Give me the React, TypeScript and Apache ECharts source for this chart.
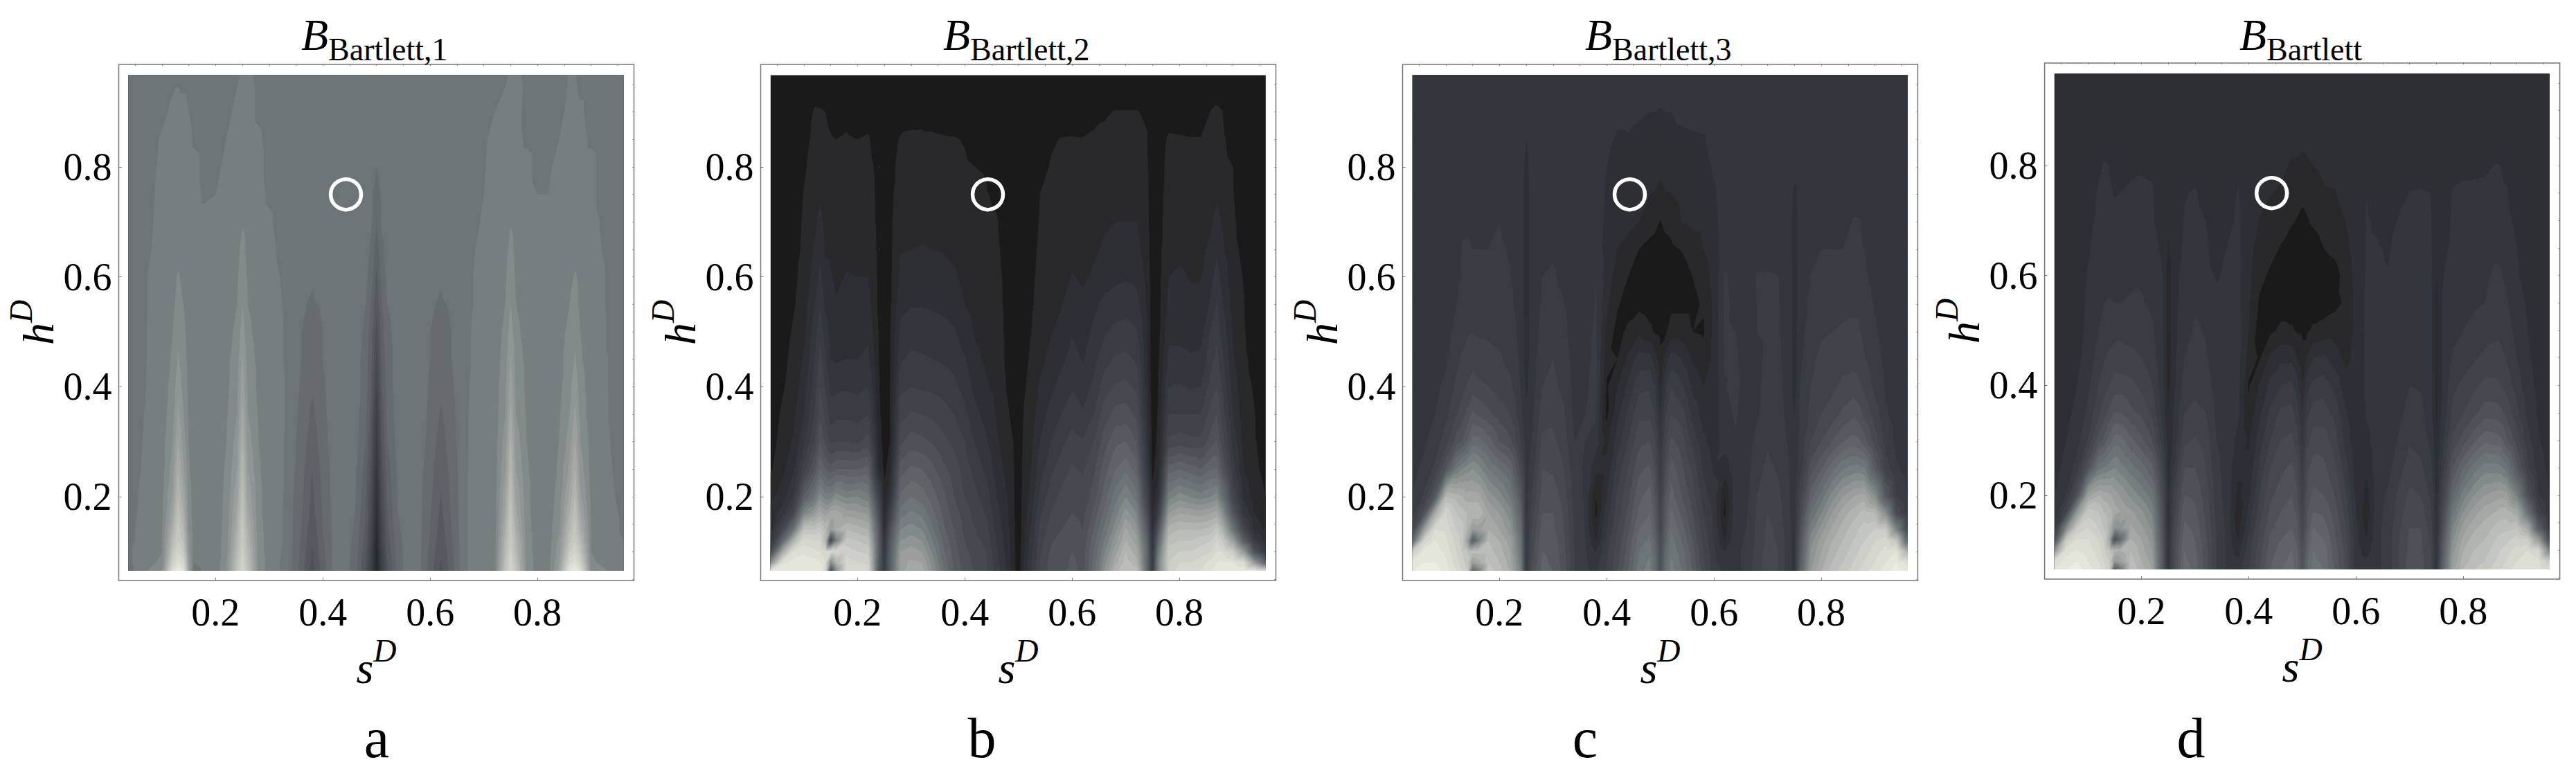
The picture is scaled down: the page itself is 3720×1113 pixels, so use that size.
import React, { useEffect, useRef } from "react";
import * as echarts from "echarts";

// grid positions of the sampled surface (shared by all four panels)
const S = [0.038,0.06,0.08,0.10,0.12,0.13,0.14,0.15,0.16,0.18,
  0.20,0.22,0.24,0.25,0.26,0.28,0.30,0.32,0.34,0.36,
  0.38,0.40,0.42,0.44,0.46,0.48,0.49,0.50,0.51,0.52,
  0.54,0.56,0.58,0.60,0.62,0.64,0.66,0.68,0.70,0.72,
  0.74,0.75,0.76,0.78,0.80,0.82,0.84,0.86,0.87,0.88,
  0.90,0.92,0.94,0.961];
const H = [0.065,0.08,0.10,0.12,0.14,0.17,0.20,0.25,0.30,0.35,
  0.40,0.45,0.50,0.55,0.60,0.65,0.70,0.75,0.80,0.85,
  0.90,0.967];

const TICKS = [0.2, 0.4, 0.6, 0.8];
const MINOR_TICKS = [0.05,0.1,0.15,0.2,0.25,0.3,0.35,0.4,0.45,0.5,0.55,0.6,0.65,0.7,0.75,0.8,0.85,0.9,0.95];
const MARKER = [[0.443, 0.75]];

// panel a, rows from the top of the plot down
const ROWS_A = [
[46,46,46,46,46,47,46,46,46,46, 46,46,47,49,49,47,46,46,46,46, 46,46,46,46,46,46,46,46,46,46, 46,46,46,46,46,46,46,46,46,46, 47,49,49,47,46,46,46,48.5,48.5,46, 46,46,46,46],
[46,46,46,46,50,50,50,48,46,46, 46,46,50,50,50,47,46,46,46,46, 46,46,46,46,46,46,46,46,46,46, 46,46,46,46,46,46,46,46,46,48, 50,50,50,46,46,46,46,50,50,49, 46,46,46,46],
[46,46,46,49,50,50,50,50,47,46, 46,48,50,50,50,49,46,46,46,46, 46,46,46,46,46,46,46,46,46,46, 46,46,46,46,46,46,46,46,47,50, 50,50,50,47,46,46,48,50,50,50, 47,46,46,46],
[46,46,46,50,50,50,50,50,50,46, 46,50,50,50,50,50,46,46,46,46, 46,46,46,46,46,46,46,44,46,46, 46,46,46,46,46,46,46,46,47.5,50, 50,50,50,50,46,47,50,50,50,50, 50,46,46,46],
[46,46,47,50,50,50,50,50,50,47, 48,50,50,50,50,50,47,46,46,46, 46,46,46,46,46,46,45,42,45,46, 46,46,46,46,46,46,46,46,48,50, 50,50,50,50,48,48,50,50,50,50, 50,46,46,46],
[46,46,47.5,50,50,50,50,50,50,50, 48.5,50,51,51.8,51,50,49,46,46,46, 46,46,46,46,46,46,45,40,45,46, 46,46,46,46,46,46,46,46,49,50, 51,51.8,51,50,49,49,50,50,50,50, 50,47.5,46,46],
[46,46,48,50,50,50,50,50,50,50, 50,50,51,53,51,50,50,47,46,46, 46,46,46,46,46,46,43,38,43,46, 46,46,46,46,46,46,46,47.5,50,50, 51,53,51,50,50,50,50,50,50,50, 50,48,46,46],
[46,46,49,50,51,52.5,51,50,50,50, 50,50,51.5,54,51.5,50,50,48,45.5,46, 44.5,46,46,46,46,45,42,35,42,45, 46,46,46,46,44.5,46,45.5,48,50,50, 51.5,54,51.5,50,50,50,50,51,52.5,51, 50,49,46,46],
[46,46,49,50,51,53.5,52,50,50,50, 50,50,52,56,52,50,50,48.5,46,44.5, 43.5,44.5,46,46,46,44,40,33,40,44, 46,46,46,44.5,43.5,44.5,46,48,50,50, 52,56,52,50,50,50,50,52,53.5,51, 50,49,46,46],
[46,46,49.5,50,52,55,53,50.5,50,50, 50,50.5,53,58,53,50.5,50,49,46,44, 42.5,44,46,46,46,43,38,30,38,43, 46,46,46,44,42.7,44,46,48.5,50,50, 53,58,53,50.5,50,50,50.5,53,55,52, 50,49.5,46,46],
[46,46,49.5,50,52.5,56.5,53.5,51,50,50, 50,51,54,60.5,54,51,50,49,46,44, 41.5,44,46,46,46,42,37,27,37,42, 46,46,46,44,42,44,46,48.5,50,50, 54,60.5,54,51,50,50,51,53.5,56.5,52.5, 50,49.5,47,46],
[46,46.5,49.5,50,53.5,58.5,54.5,51,50,50, 50,51,55,62.5,55,51,50,49.5,46,43.5, 40.5,43.5,46,46,46,42,36,24,36,42, 46,46,46,43.5,41,43.5,46,49,50,50, 55,62.5,55,51,50,50,51,54.5,58.5,53.5, 50,49.5,47,46],
[46,47,50,50,54.5,61,56,51.5,50,50, 50,51.5,56,65.5,56,51.5,50,49.5,46,43, 39,43,46,46,46,41,34,21,34,41, 46,46,46,43,39.5,43,46,49.5,50,50, 56,65.5,56,51.5,50,50,51.5,56,61,54.5, 50,50,47,46],
[46,47.5,50,50.5,56,64.5,58,52,50,50, 50,52,58,68.5,58,52,50,49.5,45.5,42.5, 37.5,42.5,46,46,45.5,40,32,18,32,40, 45.5,46,46,42.5,38,42.5,46,49.5,50,50, 58,68.5,58,52,50,50,52,58,64.5,56, 50.5,50,47.5,46],
[46,48,50,50.5,58,68,61,52.5,50,50, 50,52.5,60,72,60,52.5,50,49.5,45.5,41.5, 36,41.5,45.5,46,45,38,30,15,30,38, 45,46,45.5,41.5,37,41.5,46,50,50,50, 60,72,60,52.5,50,50,52.5,61,68,58, 50.5,50,48,46],
[46,48.5,50,51,61,72,65,53.5,50,50, 50,53,63,75,63,53,50,49.5,45,41, 35,41,45.5,46,44.5,37,28,12,28,37, 44.5,46,45,41,35.8,41,46,50,50,50, 63,75,63,53,50,50,53.5,65,72,61, 51,50,48.5,46.5],
[46,49,50,51,64,75,68,54,50,50, 50,53,65,77,65,53,50,49,45,40.5, 34.5,40.5,45,46,44,36,27,10,27,36, 44,46,45,40.5,35,40.5,46,50,50,50, 65,77,65,53,50,50,54,68,75,64, 51,50,49,47],
[46,49.5,50,51.5,68,78,72,55,50.5,50, 50,53.5,68,78.5,68,53.5,50,49,45,40, 33,40,45,46,43.5,35,25,8,25,35, 43.5,46,45,40,34,40,46,50,50,50, 68,78.5,68,53.5,50,50.5,55,72,78,68, 51.5,50,49.5,47],
[46,50,50,52,72,80,75,57,50,50, 50,54,70,80,70,54,50,49,45,39.5, 32.5,39.5,45,46,43,34,24,7,24,34, 43,46,45,39.5,33.5,39.5,46,50,50,50, 70,80,70,54,50,50,57,75,80,72, 52,50,50,48],
[47,50,50,52,76,84,79,58,50,50, 50,54,72,81.5,72,54,50,48.5,45,39, 31.5,39,45,46,42.5,33,22,6,22,33, 42.5,46,45,39,32.5,39,46,50,50,50, 72,81.5,72,54,50,50,58,79,84,76, 52,50,50,49],
[47,50,51,53,82,90,86,60,48,50, 50,55,74,83,74,55,50,48,45,38.5, 31,38.5,45,46,42,32,21,5,21,32, 42,46,45,38.5,31.8,38.5,46,50,50,50, 74,83,74,55,50,50,60,86,90,82, 53,51,50,49],
[46.5,50,53,56,88,98,92,62,46,49, 50,55,76,85,76,55,50,48,45,38, 30,38,45,46,42,31,20,4,20,31, 42,46,45,38,31,38,46,50,50,50, 76,85,76,55,50,50,62,92,98,88, 56,53,50,48],
];

// panels b, c, d: one list per s column, from the bottom of the plot up
const COLS_B = [
[92,55,25,14,11,9,7,3.5,2.5,2, 1.5,1,1,1,0,0,0,0,0,0, 0,0],
[96,90,65,40,25,14,10,7,5.5,4.7, 3.5,3,2,1,1,0,0,0,0,0, 0,0],
[96,94,88,68,45,25,16,11,8.5,7, 6,5,4.5,3.5,3,2,1.5,1,0,0, 0,0],
[96,95,91,86,76,52,36,22,15,12, 10,8.5,7,6,5.5,5,4.7,4.2,3.5,2.5, 1,0],
[96,94,89,84,76,60,46,32,24,20, 18,16,14,12,10,8.5,7.3,6,5.5,5.2, 4.6,0],
[96,92,88,84,78,66,54,40,32,27, 24,21.5,19,16,13,11,9,7.5,6.5,6, 4.5,0],
[85,88,85,72,72,62,50,36,27,23, 20,17,14,11,9,7.5,7,6,5.5,5, 4,0],
[30,55,85,25,60,66,50,34,23,18, 15,12,10.5,9,8.3,7.5,6.5,5.5,5,4.3, 3,0],
[55,70,85,50,68,66,54,36,24,19, 15,11.5,9.5,8.2,7.5,6.8,6,5.5,4.8,4, 2.5,0],
[88,86,82,78,72,62,51,36,24,19, 15.5,12,10,9,8.2,7,6.2,5.7,5,4.4, 3,0],
[88,84,80,76,70,61,52,36,23,18.5, 15,12,11,9.5,8,7,6,5.5,5,4, 2,0],
[86,83,79,74,68,59,49,37,26,20, 16,13,11,9.5,8,7,6,5.5,5,4.4, 2.5,0],
[32,34,36,36,34,28,22,8,6,5, 4.5,4,3.5,3,3,3,3,3,3,2, 1,0],
[18,18,16,13,10.5,8,5.5,3,2,1.5, 1,1,1,1,1,1,1,1,1,0, 0,0],
[35,35,34,32,28,20,12,6,4,3.5, 3.5,3.5,3.5,3,3,3,3,3,3,2.5, 1,0],
[62,62,60,56,52,46,41,34,27,22.5, 19,15.5,13,11,9,7.8,7,6,5,4.4, 2,0],
[68,65,62,58,54,49,44,37,30,24.5, 20,17,14,11.7,10,8,7,6,5,4.5, 3,0],
[66,64,60,56,52,47,42,36,29,24, 19.5,16.5,14,11.8,10,8.2,7,6,5.3,4.6, 3,0],
[56,54,51,48,45,41,38,33,27.5,23, 19,16,13.8,11.5,9.5,8,7,6,5.2,4.6, 2.5,0],
[44,43,41,39,37,35,33,29,25,21.5, 18.5,15.5,13.5,11,9,7.8,6.8,5.8,5,4.4, 2,0],
[36,35,34,33,32,30,28,26,23,20, 17,14.5,12.5,10,8.5,7.3,6.3,5.5,4.8,4.3, 1.5,0],
[30,30,29,28,27,26,24,22,20,17, 14.5,12.4,9.8,8,7,6.3,5.6,5,4.5,3.8, 1,0],
[28,27,26,25,24,22.5,21,18.5,15.5,13, 10.5,8.8,7.6,6.7,6,5.5,5,4.6,4,2.5, 0.5,0],
[25,24.5,24,23,21.5,19.5,18,15,12.5,10.5, 8.5,7.4,6.6,6,5.5,5,4.6,4.2,3.8,1.5, 0,0],
[18,17.5,16.5,15.5,14.5,13.2,12,10,8.6,7.5, 6.8,6.1,5.6,5.1,4.9,4.6,4.2,3.5,2,0, 0,0],
[11,10.5,10,9.5,9,8.5,7.8,6.5,5.5,4.5, 3.5,3,3,3,3,2.5,2,1,0,0, 0,0],
[6,6,6,5.8,5.5,5.2,5,4.6,4.1,3, 2,2,1,1,1,1,0,0,0,0, 0,0],
[1.5,1.5,1.5,1,1,1,1,1,1,0, 0,0,0,0,0,0,0,0,0,0, 0,0],
[8,8,7.5,7,7,6.5,6,5.5,5,4.3, 3.5,2.5,2,1,1,0,0,0,0,0, 0,0],
[14,14,13,12,11,9.5,8,7,6,5.3, 4.8,4.2,3.5,3,2.5,2,1,0,0,0, 0,0],
[24,24,23,22,21,19,17,14,12,10, 8.5,7,6,5.5,5.2,4.8,4.4,4,2.5,1, 0,0],
[30,29.5,28.5,27.5,26,24,22,19,16,13.5, 11,9,7.7,6.8,6,5.5,5,4.7,4.3,3.5, 0.5,0],
[30,30,30,29,28,26.5,25,22,19,16, 13.5,11,9.2,7.8,6.8,6.1,5.6,5.2,4.8,4.2, 1.5,0],
[34,33,32,31,30,28,27,24.5,21.5,18.5, 15.7,13.5,11.7,9.4,8.2,7,6,5.5,5,4.3, 2,0],
[30,30,30,29,28,27,25,23.5,20.5,16.5, 14,11.7,10,8.7,7.5,6.6,5.8,5.2,4.8,4.2, 1.5,0],
[42,41,40,38,36,33,30,27,24,20, 17,14.5,12.8,11,8.6,7.3,6.5,5.6,5,4.8, 2.5,0],
[56,54,51,48,45,41,38,34,30,26, 22,18.5,15.5,13,10.5,8.6,7.4,6.4,5.6,5, 3.5,0],
[70,66,62,58,54,50,46,40,35,29.5, 24.5,20.5,17,14,11,9.2,8,6.8,5.8,5, 4.2,0],
[76,74,72,68,65,58,52,43,36,30, 25,21,17.5,14.5,11.5,9.5,8,6.8,5.8,5, 4.2,0],
[74,70,66,62,58,52,46,38,32,27, 23,19.5,16.5,13.5,11,9.2,8,6.8,5.8,5, 4.2,0],
[40,40,40,38,34,28,22,16,13,11, 9.5,8.5,8,7.5,6.8,6,5.5,5,4.6,4.2, 3.5,0],
[18,18,16,14,11,8,5.5,3,2,1.5, 1,1,1,1,1,1,1,1,1,0, 0,0],
[50,50,45,38,30,18,11,6,5,4.3, 3.8,3,2.5,2.5,2.5,2.5,2.5,2.5,2.5,2, 1,0],
[80,80,78,74,70,60,50,38,25,20, 16,13,11,9,8,7,6,5.5,5,4.6, 2,0],
[86,84,80,76,72,64,54,40,26,20, 16.5,13,11,9.5,8.5,7.3,6.5,5.7,5,4.4, 2,0],
[86,84,80,76,72,63,52,38,25,20, 15.7,12.5,10.5,8.7,7.8,7,6.2,5.7,5,4.2, 2,0],
[88,86,82,78,72,62,50,36,25,20, 16,13,10.5,8.8,7.8,7,6.4,5.8,5,4.2, 2,0],
[92,90,84,80,74,64,52,40,30,26, 22,19,17,13,11,9,7.7,6.5,5.8,5.2, 4.3,1],
[94,92,88,84,78,66,54,40,32,28, 24,21.5,19,16.5,13.5,11.5,9,7.7,6.5,5.7, 4.8,1],
[96,93,88,80,70,56,44,32,26,22, 19.5,17,14.5,12.5,10.5,8.8,7.7,6.6,5.6,5, 4.2,0],
[96,92,80,62,46,32,24,18,14.5,12, 10,8.5,7.5,6.4,5.8,5.2,4.8,4.3,4,2, 0,0],
[96,88,60,36,24,15,11,8,6.5,5.5, 5,4.7,4.4,4.2,3.8,3,2,1,0,0, 0,0],
[94,60,30,18,11,8,6,4.8,4.3,4.1, 3.7,3,2,1,1,0,0,0,0,0, 0,0],
[86,38,16,10,7,5,4,3,2.5,2, 1.5,1,1,0,0,0,0,0,0,0, 0,0],
];

const COLS_C = [
[96,94,80,40,24,18,16.5,15,14,14, 14,14,14,14,14,14,14,14,14,14, 14,14],
[98,96,94,84,62,30,21,17,15.5,14.5, 14,14,14,14,14,14,14,14,14,14, 14,14],
[98,96,94,92,88,66,34,21,18,16, 15,14.5,14,14,14,14,14,14,14,14, 14,14],
[94,93,91,89,87,84,72,32,22,19, 17,15.5,15,14.5,14,14,14,14,14,14, 14,14],
[88,86,84,82,80,76,70,48,30,24, 21,19,17,16,15,14.5,14.5,14,14,14, 14,14],
[84,82,80,78,78,74,68,52,32,26, 22.5,20.5,18.5,17,16.3,16.2,15.7,14.5,14,14, 14,14],
[80,78,76,64,70,72,66,54,36,29, 24.5,22,19.5,17.5,16.5,16.3,15.6,14.5,14,14, 14,14],
[40,62,74,36,60,72,66,56,42,33, 26,22.5,20,17.5,16.5,16,15.5,14,14,14, 14,14],
[50,66,74,48,62,72,66,54,42,31.5, 25,21.5,19.5,17.5,16.5,16,15.5,14,14,14, 14,14],
[78,76,74,72,68,64,58,48,38,29, 24,21,19.5,18,16.5,16,15.7,14.2,14,14, 14,14],
[74,72,70,68,64,60,54,44,32,26, 22,20.5,19,18.5,17,16.5,16,14.2,14,14, 14,14],
[68,66,64,62,58,54,48,40,29,24, 21,19,18,17,16.2,15.7,14.8,14,14,14, 14,14],
[50,48,46,44,42,38,34,26,20,17, 16,15,14.5,14,14,14,14,14,14,14, 14,14],
[16,16,16,16,16,15,15,15,14,13, 11,10,10,10,10,10,10,10,10.5,12, 14,14],
[28,27,26,25,24,22,20,17.5,16,15, 14,14,14,14,14,14,14,14,14,14, 14,14],
[38,37,36,35,34,32,30,28,25,22, 20,18.5,17.5,16.5,16,14.5,14,14,14,14, 14,14],
[36,35,35,34,33,32,30,27.5,25,23, 21,20,18.5,17.5,16.5,15.5,14,14,14,14, 14,14],
[30,30,29.5,29,28.5,27.5,26.5,24,22,20.5, 19,18,17,16.2,15,14.5,14,14,14,14, 14,14],
[20,20,20,19.5,19.5,19,18,17,16,15, 14.5,14.5,14,14,14,14,14,14,14,14, 14,14],
[17,17,17,16.5,16,15.5,15.5,15.5,16,16, 15.5,15,14.5,14,14,14,14,14,14,14, 14,14],
[15,14,12,8,6,3,4,9,14,16.5, 17,17,16.7,16.4,16,14,14,14,14,14, 14,14],
[20,20,19,18,16,14,12,9,7,3, 3.5,5,7,9,10,10.5,11,11.5,12,13.5, 14,14],
[28,27,26,25,24,22,21,18,14,11, 8,4,2.5,4.5,6,8,9.5,10,10.5,11, 14,14],
[36,35,34,33,31,29,27,24,20,17, 13,9,5,2,4,6.5,9,9.7,10.5,11.5, 13.5,14],
[46,45,44,42,40,37,35,31,27,23, 19,14,7,3,2.5,4,8,9,10,11, 12.5,14],
[50,49,47,45,43,40,38,33,28,23, 19.5,14,5,2,2,3,5.5,8,9,10.5, 12,14],
[42,42,40,38,36,34,32,28,24,20, 16,10,3.5,2,2,2.5,5,7.8,9.5,10.8, 12,14],
[30,30,28,27,25,23,21,18,15,12, 8,5,3,2,1.5,2,3.8,7.2,8.8,10.5, 11.8,13.5],
[42,42,40,38,36,34,32,28,24,20, 16,10,3.5,2,2,2.5,5,7.8,9.5,10.8, 12,14],
[50,49,47,46,44,41,38,34,29,24, 20,14,6,3,2,3.2,5.5,8,9.5,10.8, 12,14],
[44,43,42,40,38,35,32,29,26,22, 17,12,6,3,2,4.2,8,9,10,11, 13,14],
[36,35,34,32,30,28,26,23,19,15, 11,7.5,4,3,4,6,9,9.5,10.3,11.2, 13.5,14],
[26,25,24,23,22,20,18,15.5,13,10, 8,5.5,3.5,4.5,5.5,8,9,9.7,10.5,11.5, 14,14],
[18,17,17,16,16,15,14,11.5,10,9.2, 9,9,9,9,9.5,10.5,11,11.5,12.5,14, 14,14],
[15,14,12,8,6,3,4,10,13.5,15, 15.8,16.3,16.7,17,16.5,14,14,14,14,14, 14,14],
[15,15,15,15,15,15,15,15,15.5,16.5, 17,16.5,16,15,14.5,14,14,14,14,14, 14,14],
[17,17,17,16.5,16,15.5,15,14.5,14.5,14.5, 14.5,14.5,14.5,14,14,14,14,14,14,14, 14,14],
[22,22,21.5,21,21,20.5,20,18.5,17,15.5, 15.5,15.5,16,16,16.3,14.5,14,14,14,14, 14,14],
[26,26,26,25,25,24,23,21,19.5,18, 17,16.5,16.3,16.5,16.4,14.5,14,14,14,14, 14,14],
[24,24,24,23.5,23,22,21,19.5,18,17, 16.5,16.4,16.3,16.2,16.1,14,14,14,14,14, 14,14],
[17,17,17,17,17,16.5,16.3,16,15.5,15, 15,15,14.8,14.8,14.5,14,14,14,14,14, 14,14],
[15,15,15,15,15,14.5,14.5,14,13,12, 10,10,10,10,10,10,10,11,14,14, 14,14],
[36,34,32,30,28,25,22,18,17,16.5, 16,15,14.5,14,14,14,14,14,14,14, 14,14],
[60,58,56,54,50,44,38,30,24,21, 20,19,18,16.7,16.2,14.7,14,14,14,14, 14,14],
[68,66,64,62,58,52,46,36,28,24, 22,21,19.5,18,16.5,16,14.5,14,14,14, 14,14],
[74,72,70,68,65,60,54,43,32,26, 23,21.5,20,19,17,16,14.5,14,14,14, 14,14],
[78,76,74,72,70,66,60,48,36,29, 25,22.5,20.5,19,17,16,14.5,14,14,14, 14,14],
[82,80,78,76,74,70,64,50,38,31, 26,22.5,20.5,19.5,18,16.5,16.3,14.5,14,14, 14,14],
[84,82,80,78,76,72,65,50,37,30, 25,22,20.5,19.5,17.5,16.5,16.3,14.5,14,14, 14,14],
[86,84,82,80,78,74,66,49,34,27, 23,20.5,19,17.5,16.5,16,15.5,14.2,14,14, 14,14],
[90,88,86,84,80,72,56,35,26,22, 19,17.5,16.5,15.7,15,14.5,14,14,14,14, 14,14],
[94,92,90,86,80,56,34,22,18.5,16.5, 15.5,15,14.5,14,14,14,14,14,14,14, 14,14],
[98,96,92,78,52,28,20,16.5,15,14.5, 14,14,14,14,14,14,14,14,14,14, 14,14],
[96,90,68,38,24,18,16,14.8,14,14, 14,14,14,14,14,14,14,14,14,14, 14,14],
];

const COLS_D = [
[92,88,56,26,16,12.5,12,11,10.5,10, 10,10,10,10,10,10,10,10,10,10, 10,10],
[96,94,90,78,54,24,16,13,12,11, 10.5,10,10,10,10,10,10,10,10,10, 10,10],
[98,96,92,88,80,58,30,18,14.5,13, 12,11,10.5,10,10,10,10,10,10,10, 10,10],
[94,92,90,88,84,78,62,30,20,17, 15,13.5,13,12.7,12.3,11.5,10.5,10,10,10, 10,10],
[90,88,86,84,80,76,68,46,30,23, 20,18,16,15,14.5,13.5,13,12.5,11,10, 10,10],
[86,84,82,80,76,72,66,48,33,26, 22,19.5,17,16,15.5,14.5,13.5,13,12.3,10.5, 10,10],
[82,80,76,66,70,70,65,50,38,29, 24,21,18,16.3,15,14,13,12.5,12,10.5, 10,10],
[36,60,70,30,56,66,62,52,42,32, 26,22,18.5,16,14.5,14,13,11.8,11,10.3, 10,10],
[46,62,68,40,58,64,60,50,42,32, 26,21.5,19,16,15,13.5,13,12,11.3,10.2, 10,10],
[76,74,72,68,65,61,55,46,37,29, 25,21,18.5,16.5,15,14,13.5,12.5,11.3,10, 10,10],
[70,68,66,64,61,57,51,42,33,27, 23,20,18,16.3,15.6,14,13.5,12.5,11.7,10, 10,10],
[64,62,60,58,55,51,46,37,28,23, 20,18,16.5,15.3,15,13.5,12.5,12.3,11.5,10, 10,10],
[32,32,32,31,30,28,26,22,17,14, 13,13,12.5,12.5,12,11,10,10,10,10, 10,10],
[14,13,13,12,12,11,11,10,9.5,8, 6.5,6,6,6,6,7.5,10,10,10,10, 10,10],
[26,26,26,25,24,22,20,16,13,12, 11,11,10.7,10.5,10.5,10.3,10,10,10,10, 10,10],
[42,41,40,39,37,35,32,28,23,20, 18,16,14.5,14.5,13.5,12.5,12.2,11.8,10,10, 10,10],
[38,38,37,36,35,33,31,28,24.5,21, 19,17.5,16.5,15.5,14,13,12.8,12.3,10.5,10, 10,10],
[30,30,29.5,29,28,27,26,24,22,20, 18,16.5,15.7,15,13,12.5,12,11,10,10, 10,10],
[20,20,20,20,19.5,19,18,17,16,15, 14,13.5,13,12.7,11.7,10.5,10,10,10,10, 10,10],
[15,15,15,15,15,14.5,14,14,14,14, 13.5,13.5,13,13,12.5,12.1,11,10,10,10, 10,10],
[14,13,10,8,6,5,7,9,11,13, 13.5,13.5,13.5,13,13,12.8,12.6,12.2,11,10, 10,10],
[20,19,18,17,15,13,11,9,7.5,5, 3.5,6.5,8,8.5,9,9.5,9.8,10,10,10, 10,10],
[28,27,26,25,24,22,20,17,14,11, 8.5,3.5,2,3.5,5,6.2,7.9,9.5,10,10, 10,10],
[36,35,34,33,31,29,27,24,20,17, 13,9,3,2,3.5,5,6.5,8.2,9.7,10, 10,10],
[40,39,38,36,34,32,30,27,24,21, 16,11,5,2,2,3.8,5.5,7.5,9,10, 10,10],
[42,41,40,38,36,34,32,29,25,21.5, 17,11,4.5,2,2,2,4.5,5.8,7.5,9.2, 10,10],
[38,38,37,35,33,31,29,26,22,18, 14,8,3.5,2,2,2,3.8,5.5,7.5,9.3, 10,10],
[30,30,28,27,25,23,21,18,15,12, 8,5,3.5,2,1.5,1.5,3,5,7,9, 10,10],
[40,40,38,36,34,32,30,27,23,19, 15,9,3.5,2,1.5,2,3.8,5.5,7.5,9.2, 10,10],
[46,45,44,42,40,36,33,30,26,22, 17,12,4.7,2,1.5,2,4.7,6,8,9.8, 10,10],
[44,43,42,40,38,35,32,29,26,22, 18,13,5.5,2,2,4,6,7.5,9,10, 10,10],
[36,35,34,33,32,30,28,25,22,19, 15,10,6,3,2.5,5,6.5,7.7,9.5,10, 10,10],
[28,27,27,26,25,23,21,18,15,12.5, 9.5,7,4.5,4.5,5.5,7,8,9.5,10,10, 10,10],
[14,14,14,13.5,13,12,11,9.5,8.5,8.3, 8.5,8.7,9,9.2,9.5,9.8,10,10,10,10, 10,10],
[14,13,10,8,7,5,6.5,9,11,12.5, 13,13,13,12.8,12.5,12.3,12.2,12,11,10, 10,10],
[15,15,15,15,15,15,15,15,14.5,14, 13.5,13,12.8,12.5,12.3,12.2,11.7,10.8,10,10, 10,10],
[18,18,18,18,18,17,16.5,15,14,13, 13,12.8,12.7,12.5,12.1,11.8,10.5,10,10,10, 10,10],
[24,24,24,24,23,22,21,18.5,16.5,15, 14,13.8,13.5,13.5,13,12.6,12.3,11,10,10, 10,10],
[30,30,29,29,28,27,25,22,19.5,17.5, 16,15.5,15,15.5,13.8,12.8,12.5,12.1,10.5,10, 10,10],
[30,30,29,29,28,26.5,24,21,18.5,17, 15.7,15.3,14.5,14,13.5,12.6,12.3,12.2,11,10, 10,10],
[24,24,24,23,22,20,19,17,15,13.5, 13.5,13,13,12.8,12.5,12.3,12.2,12,10.5,10, 10,10],
[13,13,12,12,12,11.5,11,10,8.5,7, 7,7,7,7,8,10,10,10,10,10, 10,10],
[36,34,32,30,27,24,21,17,14,12.5, 12,12,12,12,11.8,11,10.5,10,10,10, 10,10],
[62,60,58,55,52,46,40,32,25,21, 19,16.5,15,14.2,13,12.6,12.3,12.2,11,10, 10,10],
[72,70,68,65,62,56,50,40,30,24, 21,18,16,15.3,14.5,13,12.7,12.4,11.5,10, 10,10],
[76,74,72,70,67,62,56,46,35,27, 23,19.5,17,15.5,14.7,13.2,12.8,12.5,11.5,10, 10,10],
[78,76,74,72,70,66,60,50,39,30, 25,21,18,16,15.5,14,13,12.5,11.6,10.2, 10,10],
[82,80,78,76,73,68,62,50,38,30, 25,21.5,19,17,16.5,15.5,13.5,12.8,12.1,10.5, 10,10],
[84,82,80,78,74,70,63,49,37,29, 24,21,19,17.2,16.3,15.3,13.5,12.7,12,10.5, 10,10],
[86,84,82,78,75,70,62,46,33,27, 22.5,20,18,16.5,15.5,14.5,13,12.4,11,10, 10,10],
[90,88,86,82,76,66,50,33,26,21, 18,16,14.5,13.5,12.5,12,11,10,10,10, 10,10],
[92,92,88,80,66,44,30,21,17.5,15, 13.5,12.7,12,11.5,10.5,10,10,10,10,10, 10,10],
[90,90,84,60,36,22,16.5,13.5,12.3,11.5, 11,10.5,10,10,10,10,10,10,10,10, 10,10],
[88,80,50,26,17,13,12,11,10.5,10, 10,10,10,10,10,10,10,10,10,10, 10,10],
];

const LEVELS = [0,4,8,12,16,20,24,28,32,36,40,44,48,52,56,60,64,68,72,76,80,84,88,92,96];
const BAND_COLORS = ["#1a1a1a","#29292c","#2d2f35","#33363d","#383c43","#3f434a","#454a50","#4d5258","#555a60","#5d6367","#656b6e","#6d7476","#777e80","#838a8a","#8f9594","#9a9f9d","#a5a9a6","#b0b3af","#babdb8","#c4c6c0","#cdcfc8","#d5d7cf","#dddfd5","#e5e6db","#ecede2"];

const SERIF = "'Liberation Serif', 'Times New Roman', serif";

function rowsToCols(rows: number[][]) {
  return S.map((_, i) => H.map((_h, j) => rows[H.length - 1 - j][i]));
}

function clip(poly: number[][], level: number) {
  const out: number[][] = [];
  for (let k = 0; k < poly.length; k++) {
    const a = poly[k];
    const b = poly[(k + 1) % poly.length];
    const ain = a[2] >= level;
    const bin = b[2] >= level;
    if (ain) out.push(a);
    if (ain !== bin) {
      const t = (level - a[2]) / (b[2] - a[2]);
      out.push([a[0] + t * (b[0] - a[0]), a[1] + t * (b[1] - a[1]), level]);
    }
  }
  return out;
}

function bandPolys(cols: number[][], level: number) {
  const polys: number[][][] = [];
  for (let i = 0; i < S.length - 1; i++) {
    for (let j = 0; j < H.length - 1; j++) {
      const a = [S[i], H[j], cols[i][j]];
      const b = [S[i + 1], H[j], cols[i + 1][j]];
      const c = [S[i + 1], H[j + 1], cols[i + 1][j + 1]];
      const d = [S[i], H[j + 1], cols[i][j + 1]];
      if (a[2] >= level && b[2] >= level && c[2] >= level && d[2] >= level) {
        polys.push([a, b, c, d]);
      } else {
        const t1 = clip([a, b, c], level);
        const t2 = clip([a, c, d], level);
        if (t1.length > 2) polys.push(t1);
        if (t2.length > 2) polys.push(t2);
      }
    }
  }
  return polys;
}

const PANELS = [
  { cols: rowsToCols(ROWS_A), sub: "Bartlett,1", letter: "a", frameX: 171.5, frameY: 93, titleX: 435, letterX: 544 },
  { cols: COLS_B, sub: "Bartlett,2", letter: "b", frameX: 1098.5, frameY: 93, titleX: 1362, letterX: 1418 },
  { cols: COLS_C, sub: "Bartlett,3", letter: "c", frameX: 2025.5, frameY: 93, titleX: 2289, letterX: 2289 },
  { cols: COLS_D, sub: "Bartlett", letter: "d", frameX: 2952.6, frameY: 91, titleX: 3234, letterX: 3164 },
];
const FRAME_W = 744;
const FRAME_H = 745;
const X_MIN = 0.0195;
const X_MAX = 0.98;
const Y_MIN = 0.0474;
const Y_MAX = 0.9866;

const NAME_RICH = {
  i: { fontFamily: SERIF, fontStyle: "italic", fontSize: 64, lineHeight: 80, verticalAlign: "bottom", color: "#000" },
  d: { fontFamily: SERIF, fontStyle: "italic", fontSize: 46, lineHeight: 46, verticalAlign: "top", color: "#000" },
};
const TICK_RICH = { n: { fontFamily: SERIF, fontSize: 56, color: "#000" } };

function buildOption() {
  const grid: any[] = [];
  const xAxis: any[] = [];
  const yAxis: any[] = [];
  const series: any[] = [];
  const title: any[] = [];
  const graphic: any[] = [];

  PANELS.forEach((p, idx) => {
    grid.push({
      left: p.frameX, top: p.frameY, width: FRAME_W, height: FRAME_H,
      outerBoundsMode: "none", containLabel: false,
      show: true, borderColor: "#777", borderWidth: 1.5, backgroundColor: "#fff",
    });
    const tickLine = { lineStyle: { color: "#777", width: 1 } };
    xAxis.push({
      gridIndex: idx, type: "value", min: X_MIN, max: X_MAX, position: "bottom",
      name: "{i|s}{d|D}", nameLocation: "middle", nameGap: 72,
      nameTextStyle: { rich: NAME_RICH },
      axisLine: { show: false }, splitLine: { show: false },
      axisTick: { show: true, inside: true, length: 4, customValues: TICKS, ...tickLine },
      axisLabel: { show: true, customValues: TICKS, formatter: (v: number) => "{n|" + v.toFixed(1) + "}", rich: TICK_RICH, margin: 18 },
    });
    xAxis.push({
      gridIndex: idx, type: "value", min: X_MIN, max: X_MAX, position: "top",
      axisLine: { show: false }, splitLine: { show: false }, axisLabel: { show: false },
      axisTick: { show: true, inside: true, length: 2, customValues: MINOR_TICKS, ...tickLine },
    });
    yAxis.push({
      gridIndex: idx, type: "value", min: Y_MIN, max: Y_MAX, position: "left",
      name: "{i|h}{d|D}", nameLocation: "middle", nameGap: 80,
      nameTextStyle: { rich: NAME_RICH },
      axisLine: { show: false }, splitLine: { show: false },
      axisTick: { show: true, inside: true, length: 4, customValues: TICKS, ...tickLine },
      axisLabel: { show: true, customValues: TICKS, formatter: (v: number) => "{n|" + v.toFixed(1) + "}", rich: TICK_RICH, margin: 10 },
    });
    yAxis.push({
      gridIndex: idx, type: "value", min: Y_MIN, max: Y_MAX, position: "right",
      axisLine: { show: false }, splitLine: { show: false }, axisLabel: { show: false },
      axisTick: { show: true, inside: true, length: 2, customValues: MINOR_TICKS, ...tickLine },
    });

    const polysByLevel = LEVELS.map((l) => bandPolys(p.cols, l));
    series.push({
      type: "custom",
      coordinateSystem: "cartesian2d",
      xAxisIndex: idx * 2,
      yAxisIndex: idx * 2,
      silent: true,
      progressive: 0,
      encode: { x: 0, y: 1 },
      data: LEVELS.map((l) => [0.5, 0.5, l]),
      renderItem: (params: any, api: any) => {
        const k = params.dataIndex;
        let d = "";
        for (const poly of polysByLevel[k]) {
          poly.forEach((pt, n) => {
            const c = api.coord([pt[0], pt[1]]);
            d += (n === 0 ? "M" : "L") + c[0].toFixed(1) + " " + c[1].toFixed(1);
          });
          d += "Z";
        }
        if (!d) return null;
        return { type: "path", shape: { pathData: d }, style: { fill: BAND_COLORS[k] }, silent: true };
      },
      z: 2,
    });
    series.push({
      type: "scatter",
      xAxisIndex: idx * 2,
      yAxisIndex: idx * 2,
      data: MARKER,
      symbol: "circle",
      symbolSize: 44,
      silent: true,
      itemStyle: { color: "rgba(0,0,0,0)", borderColor: "#fff", borderWidth: 5.5, opacity: 1 },
      z: 5,
    });
    title.push({
      left: p.titleX, top: 18, padding: 0,
      text: "{b|B}{s|" + p.sub + "}",
      textStyle: { fontWeight: "normal", rich: {
        b: { fontFamily: SERIF, fontStyle: "italic", fontWeight: "normal", fontSize: 64, lineHeight: 44, verticalAlign: "top", color: "#000" },
        s: { fontFamily: SERIF, fontWeight: "normal", fontSize: 46, lineHeight: 76, verticalAlign: "bottom", color: "#000" },
      } },
    });
    graphic.push({
      type: "text", x: p.letterX, y: 1106,
      style: { text: p.letter, fontFamily: SERIF, fontSize: 82, fill: "#000", textAlign: "center", textVerticalAlign: "bottom", verticalAlign: "bottom" },
    });
  });

  return { animation: false, backgroundColor: "#fff", textStyle: { fontFamily: SERIF }, title, grid, xAxis, yAxis, series, graphic };
}

export default function App() {
  const ref = useRef<HTMLDivElement>(null);
  useEffect(() => {
    const chart = echarts.init(ref.current as HTMLDivElement, null, { renderer: "svg" });
    chart.setOption(buildOption() as any);
    return () => chart.dispose();
  }, []);
  return <div ref={ref} style={{ position: "absolute", left: 0, top: 0, width: 3720, height: 1113, background: "#fff" }} />;
}
